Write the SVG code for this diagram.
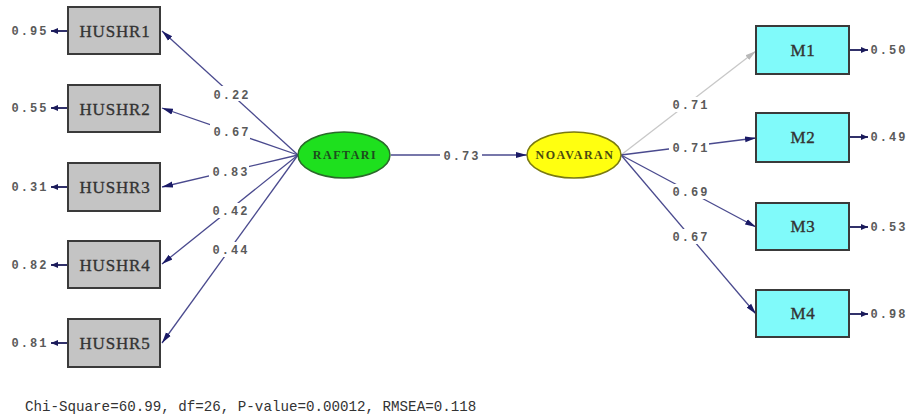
<svg xmlns="http://www.w3.org/2000/svg" width="910" height="419" viewBox="0 0 910 419">
<defs>
<style>
.obs{fill:#c4c4c4;stroke:#3a3a3a;stroke-width:2}
.ind{fill:#80fafa;stroke:#3a3a3a;stroke-width:2}
.ntx{font-family:"Liberation Serif",serif;font-size:17px;fill:#333;stroke:#333;stroke-width:0.35;text-anchor:middle;letter-spacing:0.8px}
.lbl{font-family:"Liberation Mono",monospace;font-size:12px;font-weight:bold;fill:#5a5a5a;text-anchor:middle;letter-spacing:2px}
.bg{fill:#fff}
.ln{stroke:#4a4a8e;stroke-width:1.3;fill:none;marker-end:url(#ah)}
.lg{stroke:#c8c8c8;stroke-width:1.3;fill:none;marker-end:url(#ahg)}
.er{stroke:#1a1a5a;stroke-width:1.8;fill:none;marker-end:url(#ahs)}
.lat{font-family:"Liberation Serif",serif;font-size:12px;font-weight:bold;text-anchor:middle;letter-spacing:1.5px}
</style>
<marker id="ah" markerUnits="userSpaceOnUse" markerWidth="12" markerHeight="8" refX="11" refY="4" orient="auto"><path d="M0,1 L11,4 L0,7 Z" fill="#1a1a66"/></marker>
<marker id="ahg" markerUnits="userSpaceOnUse" markerWidth="12" markerHeight="8" refX="11" refY="4" orient="auto"><path d="M0,1 L11,4 L0,7 Z" fill="#b8b8b8"/></marker>
<marker id="ahs" markerUnits="userSpaceOnUse" markerWidth="8" markerHeight="8" refX="7" refY="4" orient="auto"><path d="M0,1 L7,4 L0,7 Z" fill="#1a1a5a"/></marker>
</defs>
<rect width="910" height="419" fill="#fff"/>
<g id="connectors">
<line class="ln" x1="298" y1="155" x2="162" y2="31"/>
<line class="ln" x1="298" y1="155" x2="162" y2="108"/>
<line class="ln" x1="298" y1="155" x2="162" y2="187"/>
<line class="ln" x1="298" y1="155" x2="162" y2="264"/>
<line class="ln" x1="298" y1="155" x2="162" y2="343"/>
<line class="ln" x1="391" y1="155" x2="527" y2="155"/>
<line class="lg" x1="621" y1="155" x2="756" y2="51"/>
<line class="ln" x1="621" y1="155" x2="756" y2="138"/>
<line class="ln" x1="621" y1="155" x2="756" y2="227"/>
<line class="ln" x1="621" y1="155" x2="756" y2="314"/>
<line class="er" x1="68" y1="31" x2="51" y2="31"/>
<line class="er" x1="68" y1="108" x2="51" y2="108"/>
<line class="er" x1="68" y1="187" x2="51" y2="187"/>
<line class="er" x1="68" y1="265" x2="51" y2="265"/>
<line class="er" x1="68" y1="343" x2="51" y2="343"/>
<line class="er" x1="850" y1="50" x2="868" y2="50"/>
<line class="er" x1="850" y1="137" x2="868" y2="137"/>
<line class="er" x1="850" y1="227" x2="868" y2="227"/>
<line class="er" x1="850" y1="314" x2="868" y2="314"/>
<rect class="bg" x="210" y="86" width="40" height="15"/>
<text class="lbl" x="232" y="99">0.22</text>
<rect class="bg" x="210" y="124" width="40" height="15"/>
<text class="lbl" x="232" y="136">0.67</text>
<rect class="bg" x="209" y="164" width="40" height="15"/>
<text class="lbl" x="231" y="176">0.83</text>
<rect class="bg" x="209" y="203" width="40" height="15"/>
<text class="lbl" x="231" y="215">0.42</text>
<rect class="bg" x="209" y="242" width="40" height="15"/>
<text class="lbl" x="231" y="254">0.44</text>
<rect class="bg" x="440" y="148" width="42" height="15"/>
<text class="lbl" x="462" y="160">0.73</text>
<rect class="bg" x="669" y="97" width="40" height="15"/>
<text class="lbl" x="691" y="109">0.71</text>
<rect class="bg" x="669" y="140" width="40" height="15"/>
<text class="lbl" x="691" y="152">0.71</text>
<rect class="bg" x="669" y="184" width="40" height="15"/>
<text class="lbl" x="691" y="196">0.69</text>
<rect class="bg" x="669" y="229" width="40" height="15"/>
<text class="lbl" x="691" y="241">0.67</text>
<text class="lbl" x="30" y="35">0.95</text>
<text class="lbl" x="30" y="112">0.55</text>
<text class="lbl" x="30" y="191">0.31</text>
<text class="lbl" x="30" y="269">0.82</text>
<text class="lbl" x="30" y="347">0.81</text>
<text class="lbl" x="889" y="54">0.50</text>
<text class="lbl" x="889" y="141">0.49</text>
<text class="lbl" x="889" y="231">0.53</text>
<text class="lbl" x="889" y="318">0.98</text>
</g>
<g id="HUSHR1"><rect class="obs" x="68" y="7" width="92" height="47"/><text class="ntx" x="115" y="37">HUSHR1</text></g>
<g id="HUSHR2"><rect class="obs" x="68" y="85" width="92" height="47"/><text class="ntx" x="115" y="115">HUSHR2</text></g>
<g id="HUSHR3"><rect class="obs" x="68" y="163" width="92" height="48"/><text class="ntx" x="115" y="193">HUSHR3</text></g>
<g id="HUSHR4"><rect class="obs" x="68" y="241" width="92" height="47"/><text class="ntx" x="115" y="271">HUSHR4</text></g>
<g id="HUSHR5"><rect class="obs" x="68" y="319" width="92" height="48"/><text class="ntx" x="115" y="349">HUSHR5</text></g>
<g id="RAFTARI"><ellipse cx="344" cy="155" rx="46" ry="23" fill="#1ee01e" stroke="#2a6a2a" stroke-width="1.5"/><text class="lat" x="345" y="159" fill="#1d4d1d">RAFTARI</text></g>
<g id="NOAVARAN"><ellipse cx="574" cy="155" rx="47" ry="23" fill="#ffff10" stroke="#7a7a10" stroke-width="1.5"/><text class="lat" x="575" y="159" fill="#4a4a10">NOAVARAN</text></g>
<g id="M1"><rect class="ind" x="756" y="26" width="93" height="48"/><text class="ntx" x="803" y="56">M1</text></g>
<g id="M2"><rect class="ind" x="756" y="113" width="93" height="49"/><text class="ntx" x="803" y="143">M2</text></g>
<g id="M3"><rect class="ind" x="756" y="203" width="93" height="47"/><text class="ntx" x="803" y="232">M3</text></g>
<g id="M4"><rect class="ind" x="756" y="290" width="93" height="47"/><text class="ntx" x="803" y="319">M4</text></g>
<text x="25" y="411" font-family="Liberation Mono, monospace" font-size="14.2" fill="#333">Chi-Square=60.99, df=26, P-value=0.00012, RMSEA=0.118</text>
</svg>
